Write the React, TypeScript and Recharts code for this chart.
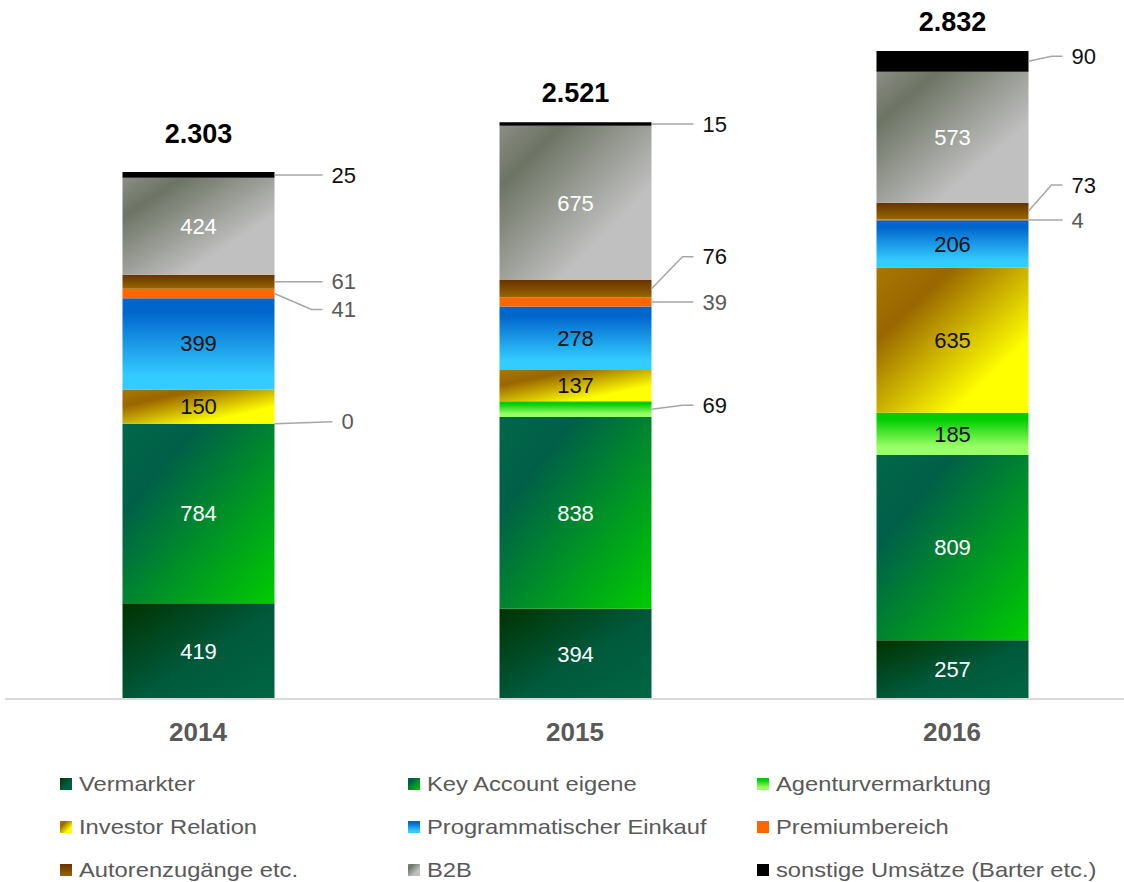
import React from "react";
import { BarChart, Bar, XAxis, YAxis, LabelList } from "recharts";

const YEARS = ["2014", "2015", "2016"];
const VERMARKTER = [419, 394, 257];
const KEY_ACCOUNT = [784, 838, 809];
const AGENTUR = [0, 69, 185];
const INVESTOR = [150, 137, 635];
const PROGRAMMATIC = [399, 278, 206];
const PREMIUM = [41, 39, 4];
const AUTOREN = [61, 76, 73];
const B2B = [424, 675, 573];
const SONSTIGE = [25, 15, 90];

interface SeriesDef {
  key: string;
  name: string;
  values: number[];
  grad: string;
  css: string;
  inside: string;
}

const SERIES: SeriesDef[] = [
  { key: "verm", name: "Vermarkter", values: VERMARKTER, grad: "g-verm", css: "linear-gradient(135deg, #003300, #005a3c 55%, #006644)", inside: "#ffffff" },
  { key: "key", name: "Key Account eigene", values: KEY_ACCOUNT, grad: "g-key", css: "linear-gradient(135deg, #006848, #005f48 25%, #00cc00)", inside: "#ffffff" },
  { key: "agentur", name: "Agenturvermarktung", values: AGENTUR, grad: "g-agentur", css: "linear-gradient(180deg, #00cc00 15%, #99ff66 80%)", inside: "#111111" },
  { key: "inv", name: "Investor Relation", values: INVESTOR, grad: "g-inv", css: "linear-gradient(135deg, #a87800, #996600 25%, #ffff00 75%)", inside: "#111111" },
  { key: "prog", name: "Programmatischer Einkauf", values: PROGRAMMATIC, grad: "g-prog", css: "linear-gradient(180deg, #0066cc 15%, #33ccff 85%)", inside: "#111111" },
  { key: "premium", name: "Premiumbereich", values: PREMIUM, grad: "g-premium", css: "#ff6600", inside: "#111111" },
  { key: "autoren", name: "Autorenzugänge etc.", values: AUTOREN, grad: "g-autoren", css: "linear-gradient(180deg, #663300, #996600)", inside: "#111111" },
  { key: "b2b", name: "B2B", values: B2B, grad: "g-b2b", css: "linear-gradient(135deg, #8a8d84, #6d7464 20%, #c0c0c0 70%)", inside: "#ffffff" },
  { key: "sonstige", name: "sonstige Umsätze (Barter etc.)", values: SONSTIGE, grad: "g-sonstige", css: "#000000", inside: "#ffffff" },
];

// leader label tweaks (px) for the small segments
const LEADER_DY: Record<string, number[]> = {
  agentur: [-2, -4, 0],
  premium: [16, 0, 0],
  autoren: [0, -32, -26],
  sonstige: [0, 0, -5],
};
const LEADER_COLOR: Record<string, string[]> = {
  agentur: ["#595959", "#111111", "#111111"],
  premium: ["#595959", "#595959", "#595959"],
  autoren: ["#595959", "#111111", "#111111"],
  sonstige: ["#111111", "#111111", "#111111"],
};
const LINE_GAP = [48, 42, 34];
const TOTAL_GAP = [29, 20, 20];

const data = YEARS.map((year, i) => {
  const row: Record<string, string | number> = { year };
  SERIES.forEach((s) => (row[s.key] = s.values[i]));
  return row;
});

const totals = YEARS.map((_, i) => SERIES.reduce((sum, s) => sum + s.values[i], 0));

const fmtTotal = (t: number) =>
  t >= 1000 ? `${Math.floor(t / 1000)}.${String(t % 1000).padStart(3, "0")}` : String(t);

function box(props: any) {
  const vb = props.viewBox && props.viewBox.width != null ? props.viewBox : props;
  const x = Number(vb.x);
  const y = Number(vb.y);
  const w = Number(vb.width);
  const h = Number(vb.height);
  return { x, w, top: Math.min(y, y + h), h: Math.abs(h) };
}

// recharts may skip zero-height bars, so find the category from the payload or value
function catIndex(props: any, s: SeriesDef) {
  const year = props.payload?.year;
  if (year != null && YEARS.indexOf(String(year)) >= 0) return YEARS.indexOf(String(year));
  const v = Array.isArray(props.value) ? props.value[1] - props.value[0] : Number(props.value);
  const k = s.values.indexOf(v);
  return k >= 0 ? k : props.index;
}

function seriesLabel(s: SeriesDef) {
  return (props: any) => {
    const i = catIndex(props, s);
    const v = s.values[i];
    const { x, w, top, h } = box(props);
    const cy = top + h / 2;
    if (v >= 100) {
      return (
        <text x={x + w / 2} y={cy} dy="0.35em" textAnchor="middle" fontSize={22} fill={s.inside}>
          {v}
        </text>
      );
    }
    const dy = LEADER_DY[s.key]?.[i] ?? 0;
    const color = LEADER_COLOR[s.key]?.[i] ?? "#111111";
    const x0 = x + w;
    const endX = x0 + LINE_GAP[i] + (v === 0 ? 10 : 0);
    const ly = cy + dy;
    const pts =
      dy === 0 || v === 0
        ? `${x0},${cy} ${endX},${ly}`
        : `${x0},${cy} ${endX - 11},${ly} ${endX},${ly}`;
    return (
      <g>
        <polyline points={pts} fill="none" stroke="#a6a6a6" strokeWidth={1.5} />
        <text x={endX + 9} y={ly} dy="0.35em" fontSize={22} fill={color}>
          {v}
        </text>
      </g>
    );
  };
}

const totalLabel = (props: any) => {
  const { x, w, top } = box(props);
  const i = catIndex(props, SERIES[SERIES.length - 1]);
  return (
    <text x={x + w / 2} y={top - TOTAL_GAP[i]} textAnchor="middle" fontSize={27} fontWeight="bold" fill="#000000">
      {fmtTotal(totals[i])}
    </text>
  );
};

const YearTick = ({ x, y, payload }: any) => (
  <text x={x} y={y + 42} textAnchor="middle" fontSize={26} fontWeight="bold" fill="#595959">
    {payload.value}
  </text>
);

const LEGEND_COLS = [60, 408, 757];
const LEGEND_ROWS = [784, 827, 870];

export default function App() {
  return (
    <div
      style={{
        position: "absolute",
        left: 0,
        top: 0,
        width: 1124,
        height: 882,
        overflow: "hidden",
        background: "#ffffff",
        fontFamily: "'Liberation Sans', Arial, sans-serif",
      }}
    >
      <BarChart width={1146} height={882} data={data} margin={{ top: 12.6, right: 5, bottom: 143, left: 5 }}>
        <defs>
          <linearGradient id="g-verm" x1="0" y1="0" x2="1" y2="1">
            <stop offset="0" stopColor="#003300" />
            <stop offset="0.55" stopColor="#005a3c" />
            <stop offset="1" stopColor="#006644" />
          </linearGradient>
          <linearGradient id="g-key" x1="0" y1="0" x2="1" y2="1">
            <stop offset="0" stopColor="#006848" />
            <stop offset="0.25" stopColor="#005f48" />
            <stop offset="1" stopColor="#00cc00" />
          </linearGradient>
          <linearGradient id="g-agentur" x1="0" y1="0" x2="0" y2="1">
            <stop offset="0.15" stopColor="#00cc00" />
            <stop offset="0.8" stopColor="#99ff66" />
          </linearGradient>
          <linearGradient id="g-inv" x1="0" y1="0" x2="1" y2="1">
            <stop offset="0" stopColor="#a87800" />
            <stop offset="0.25" stopColor="#996600" />
            <stop offset="0.75" stopColor="#ffff00" />
          </linearGradient>
          <linearGradient id="g-prog" x1="0" y1="0" x2="0" y2="1">
            <stop offset="0.15" stopColor="#0066cc" />
            <stop offset="0.85" stopColor="#33ccff" />
          </linearGradient>
          <linearGradient id="g-premium" x1="0" y1="0" x2="0" y2="1">
            <stop offset="0" stopColor="#ff6600" />
            <stop offset="1" stopColor="#ff6600" />
          </linearGradient>
          <linearGradient id="g-autoren" x1="0" y1="0" x2="0" y2="1">
            <stop offset="0" stopColor="#663300" />
            <stop offset="1" stopColor="#996600" />
          </linearGradient>
          <linearGradient id="g-b2b" x1="0" y1="0" x2="1" y2="1">
            <stop offset="0" stopColor="#8a8d84" />
            <stop offset="0.2" stopColor="#6d7464" />
            <stop offset="0.7" stopColor="#c0c0c0" />
          </linearGradient>
          <linearGradient id="g-sonstige" x1="0" y1="0" x2="0" y2="1">
            <stop offset="0" stopColor="#000000" />
            <stop offset="1" stopColor="#000000" />
          </linearGradient>
        </defs>
        <XAxis
          dataKey="year"
          height={40}
          padding={{ left: 4.5, right: 0.5 }}
          axisLine={{ stroke: "#d9d9d9", strokeWidth: 2 }}
          tickLine={false}
          tickSize={0}
          tickMargin={0}
          tick={<YearTick />}
          interval={0}
        />
        <YAxis hide domain={[0, 3000]} />
        {SERIES.map((s) => (
          <Bar
            key={s.key}
            dataKey={s.key}
            name={s.name}
            stackId="a"
            barSize={152}
            fill={`url(#${s.grad})`}
            minPointSize={s.key === "agentur" ? 0.01 : 0}
            isAnimationActive={false}
          >
            <LabelList dataKey={s.key} content={seriesLabel(s)} />
            {s.key === "sonstige" && <LabelList dataKey={s.key} content={totalLabel} />}
          </Bar>
        ))}
      </BarChart>
      {SERIES.map((s, i) => (
        <div
          key={s.key}
          style={{
            position: "absolute",
            left: LEGEND_COLS[i % 3],
            top: LEGEND_ROWS[Math.floor(i / 3)] - 14,
            height: 28,
            display: "flex",
            alignItems: "center",
            whiteSpace: "nowrap",
          }}
        >
          <div style={{ width: 12, height: 12, background: s.css, marginRight: 7, flex: "none" }} />
          <span
            style={{
              display: "inline-block",
              fontSize: 21,
              color: "#595959",
              transform: "scaleX(1.13)",
              transformOrigin: "left center",
            }}
          >
            {s.name}
          </span>
        </div>
      ))}
    </div>
  );
}
